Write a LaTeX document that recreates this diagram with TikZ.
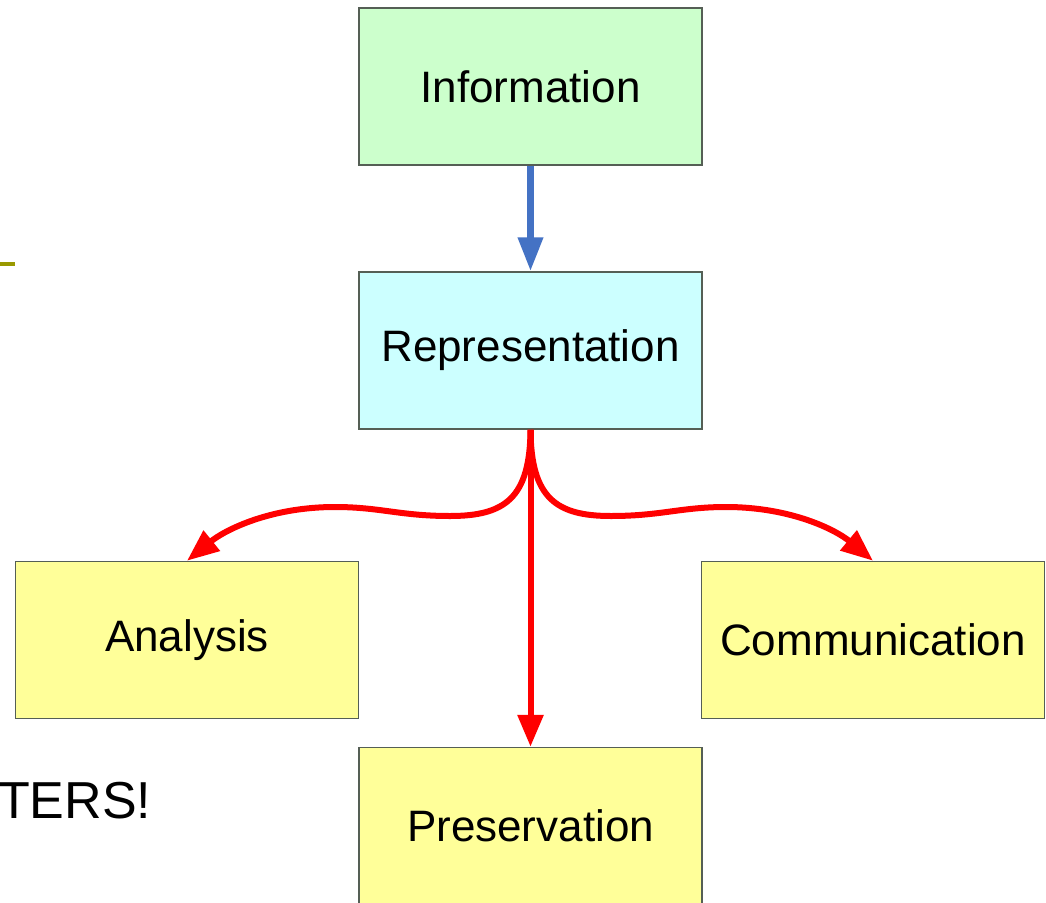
\documentclass[tikz,border=0pt]{standalone}
\usepackage{fontspec}
\setmainfont{Liberation Sans}
\usetikzlibrary{arrows.meta}
\definecolor{infogreen}{RGB}{204,255,204}
\definecolor{repcyan}{RGB}{204,255,255}
\definecolor{outyellow}{RGB}{255,255,153}
\definecolor{boxedge}{RGB}{85,95,85}
\definecolor{flowblue}{RGB}{68,114,196}
\definecolor{barolive}{RGB}{153,153,0}
\begin{document}
\begin{tikzpicture}[x=1pt, y=-1pt,
    box/.style={rectangle, draw=boxedge, line width=1.5pt, minimum width=343pt, minimum height=157pt, inner sep=0pt, font=\fontsize{44}{50}\selectfont},
    flow/.style={red, line width=6pt, -{Triangle[length=32pt,width=25pt]}}]
    \useasboundingbox (0,0) rectangle (1046,902);
    \clip (0,0) rectangle (1046,902);

    \draw[barolive, line width=4pt] (0,264) -- (15,264);
    \node[anchor=base west, inner sep=0pt, font=\fontsize{52}{60}\selectfont](tag) at (-2,818){TERS!};

    \node[box, fill=infogreen](info) at (530.5,86.5){Information};
    \node[box, fill=repcyan](rep) at (530.5,350.5){Representation};
    \node[box, fill=outyellow](ana) at (187,640){Analysis};
    \node[box, fill=outyellow](com) at (873,640){Communication};
    \node[box, fill=outyellow, text depth=0pt](pres) at (530.5,826){Preservation};

    \draw[flowblue, line width=7pt, -{Triangle[length=34pt,width=24pt]}] (info.south) -- (rep.north);
    \draw[flow] (rep.south) -- (pres.north);
    \draw[flow] (rep.south) .. controls (530,498) and (505,516) .. (450,516)
        .. controls (400,516) and (380,507) .. (335,507)
        .. controls (270,507) and (225,530) .. (ana.north);
    \draw[flow] (rep.south) .. controls (531,498) and (556,516) .. (611,516)
        .. controls (661,516) and (681,507) .. (726,507)
        .. controls (791,507) and (836,530) .. (com.north);
\end{tikzpicture}
\end{document}
